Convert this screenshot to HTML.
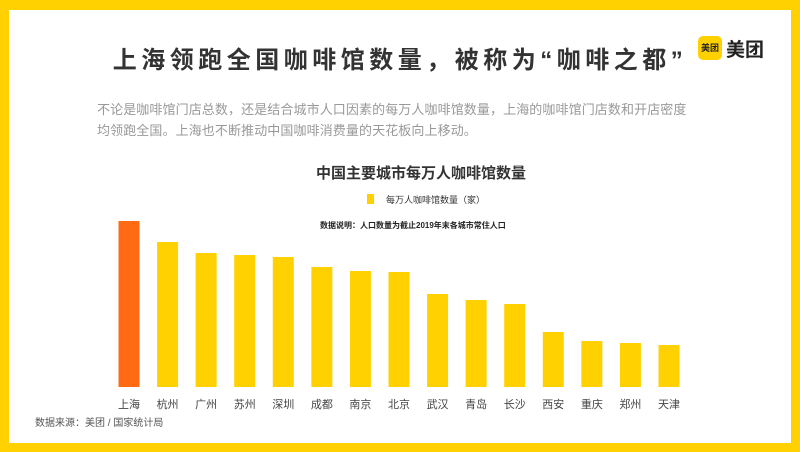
<!DOCTYPE html>
<html><head><meta charset="utf-8"><style>
html,body{margin:0;padding:0;}
body{width:800px;height:452px;background:#FFD100;position:relative;overflow:hidden;font-family:"Liberation Sans","Noto Sans CJK SC",sans-serif;}
#card{position:absolute;left:9px;top:10px;width:782px;height:433px;background:#fff;}
.t{position:absolute;white-space:nowrap;}
</style></head><body>
<div id="card"></div>
<div class="t" style="left:0;width:800px;text-align:center;top:40px;font-size:24px;font-weight:bold;color:#333;letter-spacing:4.5px;">上海领跑全国咖啡馆数量，被称为“咖啡之都”</div>
<div style="position:absolute;left:698px;top:36px;width:24px;height:24px;background:#FFD100;border-radius:5px;font-size:9px;font-weight:bold;line-height:24px;text-align:center;color:#222;">美团</div>
<div class="t" style="left:726px;top:35px;font-size:19px;font-weight:bold;color:#222;">美团</div>
<div class="t" style="left:97px;top:99px;font-size:13px;letter-spacing:0.1px;line-height:21px;color:#999;">不论是咖啡馆门店总数，还是结合城市人口因素的每万人咖啡馆数量，上海的咖啡馆门店数和开店密度<br>均领跑全国。上海也不断推动中国咖啡消费量的天花板向上移动。</div>
<div class="t" style="left:0;width:842px;text-align:center;top:162px;font-size:15px;font-weight:bold;color:#333;">中国主要城市每万人咖啡馆数量</div>
<div style="position:absolute;left:367px;top:194px;width:7px;height:10px;background:#FFD100;"></div>
<div class="t" style="left:386px;top:193px;font-size:9px;color:#333;">每万人咖啡馆数量（家）</div>
<div class="t" style="left:320px;top:220px;font-size:8px;font-weight:bold;color:#222;">数据说明：人口数量为截止2019年末各城市常住人口</div>
<svg id="chart" width="800" height="452" style="position:absolute;left:0;top:0;"></svg>
<div class="t" style="left:35px;top:414px;font-size:10px;color:#555;">数据来源：美团 / 国家统计局</div>
<script>
const categories=["上海","杭州","广州","苏州","深圳","成都","南京","北京","武汉","青岛","长沙","西安","重庆","郑州","天津"];
const values=[166,145,134,132,130,120,116,115,93,87,83,55,46,44,42];
const svg=document.getElementById('chart');
const NS='http://www.w3.org/2000/svg';
const x0=129,x1=669,base=387,maxV=166,maxH=166,bw=21;
function xs(i){return x0+(x1-x0)*i/(categories.length-1);}
function ys(v){return base-v/maxV*maxH;}
categories.forEach((c,i)=>{
  const r=document.createElementNS(NS,'rect');
  r.setAttribute('x',xs(i)-bw/2);r.setAttribute('y',ys(values[i]));
  r.setAttribute('width',bw);r.setAttribute('height',base-ys(values[i]));
  r.setAttribute('fill',i===0?'#FF6A13':'#FFD100');
  
  
  svg.appendChild(r);
  const t=document.createElementNS(NS,'text');
  t.setAttribute('x',xs(i));t.setAttribute('y',408);t.setAttribute('text-anchor','middle');
  t.setAttribute('font-size','11');t.setAttribute('fill','#444');
  t.setAttribute('font-family','"Liberation Sans","Noto Sans CJK SC",sans-serif');
  t.textContent=c;
  
  
  svg.appendChild(t);
});
</script>
</body></html>
